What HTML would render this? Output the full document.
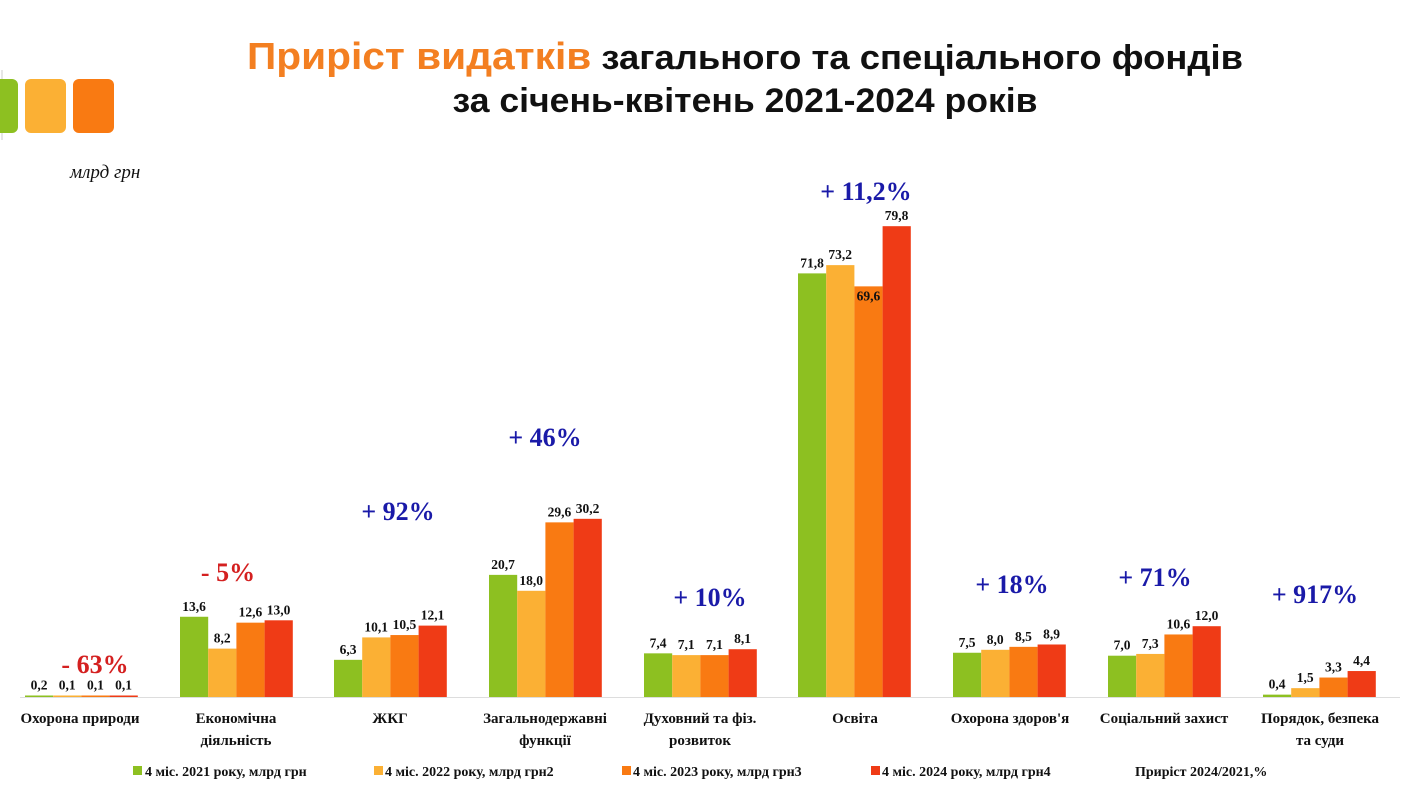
<!DOCTYPE html>
<html><head><meta charset="utf-8"><style>
body{margin:0;background:#fff;}
svg{display:block;}
.t{font-family:"Liberation Sans",sans-serif;font-weight:bold;}
.s{font-family:"Liberation Serif",serif;font-weight:bold;}
</style></head><body>
<svg width="1410" height="793" xmlns="http://www.w3.org/2000/svg">
<line x1="2" y1="70" x2="2" y2="140" stroke="#ccc" stroke-width="1"/>
<rect x="-10" y="79" width="28" height="54" rx="6" fill="#8dc021"/>
<rect x="25" y="79" width="41" height="54" rx="6" fill="#fbb034"/>
<rect x="73" y="79" width="41" height="54" rx="6" fill="#f97a12"/>
<text x="70" y="178" font-family="Liberation Serif,serif" font-style="italic" font-size="19" fill="#111">млрд грн</text>
<text x="745" y="69" text-anchor="middle" class="t" font-size="38" textLength="996" lengthAdjust="spacingAndGlyphs"><tspan fill="#f37f21">Приріст видатків</tspan><tspan fill="#111" font-size="34"> загального та спеціального фондів</tspan></text>
<text x="745" y="112" text-anchor="middle" class="t" font-size="34" fill="#111" textLength="585" lengthAdjust="spacingAndGlyphs">за січень-квітень 2021-2024 років</text>
<line x1="20" y1="697.5" x2="1400" y2="697.5" stroke="#ddd" stroke-width="1"/>
<g id="bars"></g>
<g class="s" font-size="26">
<text x="95" y="673" text-anchor="middle" fill="#d42020">- 63%</text>
<text x="228" y="581" text-anchor="middle" fill="#d42020">- 5%</text>
<text x="398" y="520" text-anchor="middle" fill="#1a1aa8">+ 92%</text>
<text x="545" y="446" text-anchor="middle" fill="#1a1aa8">+ 46%</text>
<text x="710" y="606" text-anchor="middle" fill="#1a1aa8">+ 10%</text>
<text x="866" y="200" text-anchor="middle" fill="#1a1aa8">+ 11,2%</text>
<text x="1012" y="593" text-anchor="middle" fill="#1a1aa8">+ 18%</text>
<text x="1155" y="586" text-anchor="middle" fill="#1a1aa8">+ 71%</text>
<text x="1315" y="603" text-anchor="middle" fill="#1a1aa8">+ 917%</text>
</g>
<g class="s" font-size="15" fill="#111" text-anchor="middle">
<text x="80" y="723">Охорона природи</text>
<text x="236" y="723">Економічна</text><text x="236" y="745">діяльність</text>
<text x="390" y="723">ЖКГ</text>
<text x="545" y="723">Загальнодержавні</text><text x="545" y="745">функції</text>
<text x="700" y="723">Духовний та фіз.</text><text x="700" y="745">розвиток</text>
<text x="855" y="723">Освіта</text>
<text x="1010" y="723">Охорона здоров'я</text>
<text x="1164" y="723">Соціальний захист</text>
<text x="1320" y="723">Порядок, безпека</text><text x="1320" y="745">та суди</text>
</g>
<g class="s" font-size="14" fill="#111">
<rect x="133" y="766" width="9" height="9" fill="#8dc021"/><text x="145" y="776">4 міс. 2021 року, млрд грн</text>
<rect x="374" y="766" width="9" height="9" fill="#fbb034"/><text x="385" y="776">4 міс. 2022 року, млрд грн2</text>
<rect x="622" y="766" width="9" height="9" fill="#f97a12"/><text x="633" y="776">4 міс. 2023 року, млрд грн3</text>
<rect x="871" y="766" width="9" height="9" fill="#ef3b16"/><text x="882" y="776">4 міс. 2024 року, млрд грн4</text>
<text x="1135" y="776">Приріст 2024/2021,%</text>
</g>
</svg>
<script>
var d=[[0.2,0.1,0.1,0.1],[13.6,8.2,12.6,13.0],[6.3,10.1,10.5,12.1],[20.7,18.0,29.6,30.2],[7.4,7.1,7.1,8.1],[71.8,73.2,69.6,79.8],[7.5,8.0,8.5,8.9],[7.0,7.3,10.6,12.0],[0.4,1.5,3.3,4.4]];
var st=[25,180,334,489,644,798,953,1108,1263];
var c=["#8dc021","#fbb034","#f97a12","#ef3b16"];
var g=document.getElementById('bars'),s='';
for(var i=0;i<9;i++)for(var j=0;j<4;j++){var v=d[i][j],h=Math.max(v*5.9,1.5),x=st[i]+j*28.2,y=697-h;
s+='<rect x="'+x+'" y="'+y+'" width="28.2" height="'+h+'" fill="'+c[j]+'"/>';
var ly=y-6; if(i==5&&j==2)ly=y+14;
s+='<text x="'+(x+14)+'" y="'+ly+'" text-anchor="middle" font-family="Liberation Serif,serif" font-weight="bold" font-size="13.5" fill="#111">'+v.toFixed(1).replace('.',',')+'</text>';}
g.innerHTML=s;
</script>
</body></html>
